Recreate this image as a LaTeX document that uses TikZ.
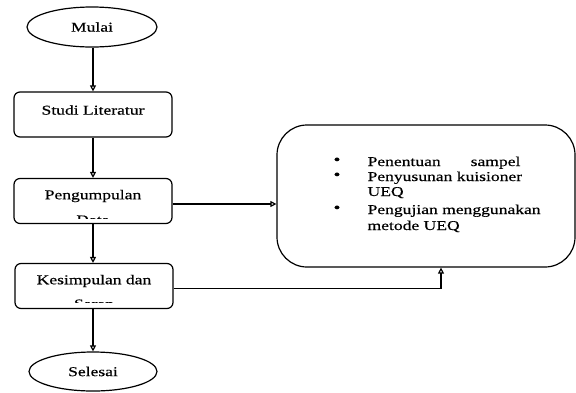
\documentclass[tikz,border=0pt]{standalone}
\usepackage{fontspec}
\setmainfont{Liberation Serif}[FakeStretch=1.3,FakeBold=0.4]
\usetikzlibrary{shapes.geometric,arrows.meta}
\begin{document}
\begin{tikzpicture}[x=1pt,y=-1pt,
  line width=1.2pt,
  txt/.style={inner sep=0pt, font=\fontsize{13.5}{15.5}\selectfont},
  term/.style={draw, ellipse, minimum width=130pt, minimum height=40pt, inner sep=0pt, font=\fontsize{13.5}{15.5}\selectfont},
  proc/.style={draw, rounded corners=6pt, minimum width=158pt, minimum height=45pt, inner sep=0pt},
  bul/.style={inner sep=0pt, anchor=center, font=\fontsize{15}{15}\selectfont},
  flow/.style={-{Triangle[open,length=6pt,width=6pt]}},
]
\useasboundingbox (0,0) rectangle (576,392);

\node[term] (mulai) at (92,27) {Mulai};
\node[proc] (studi) at (93,114.5) {};
\node[txt] (studiT) at (93,110) {Studi Literatur};
\node[proc] (peng) at (93,201) {};
\node[txt] (pengT) at (93,196) {Pengumpulan};
\begin{scope}
  \clip (14,178) rectangle (172,218);
  \node[txt] (dataT) at (93,220) {Data};
\end{scope}
\node[proc] (kes) at (94,286) {};
\node[txt] (kesT) at (94,281) {Kesimpulan dan};
\begin{scope}
  \clip (14,263) rectangle (172,302.5);
  \node[txt] (saranT) at (94,304) {Saran};
\end{scope}
\node[term, minimum width=128pt, minimum height=39pt] (sel) at (93,371.5) {Selesai};

\node[draw, rounded corners=30pt, minimum width=298pt, minimum height=142pt] (big) at (426,196) {};

\node[bul] (b1) at (337,161) {\textbullet};
\node[txt, anchor=base west] (l1) at (367,166) {Penentuan\hspace*{30pt}sampel};
\node[bul] (b2) at (337,176) {\textbullet};
\node[txt, anchor=base west] (l2) at (367,181) {Penyusunan kuisioner};
\node[txt, anchor=base west] (l3) at (367,196) {UEQ};
\node[bul] (b3) at (337,209) {\textbullet};
\node[txt, anchor=base west] (l4) at (367,214) {Pengujian menggunakan};
\node[txt, anchor=base west] (l5) at (367,230) {metode UEQ};

\draw[flow] (mulai.south -| studi.north) -- (studi.north);
\draw[flow] (studi.south) -- (peng.north);
\draw[flow] (peng.south) -- (peng.south |- kes.north);
\draw[flow] (kes.south -| sel.north) -- (sel.north);
\draw[flow] ([yshift=-3pt]peng.east) -- ([yshift=-3pt]peng.east -| big.west);
\draw[flow] ([yshift=-2.5pt]kes.east) -| ([xshift=15pt]big.south);
\end{tikzpicture}
\end{document}
